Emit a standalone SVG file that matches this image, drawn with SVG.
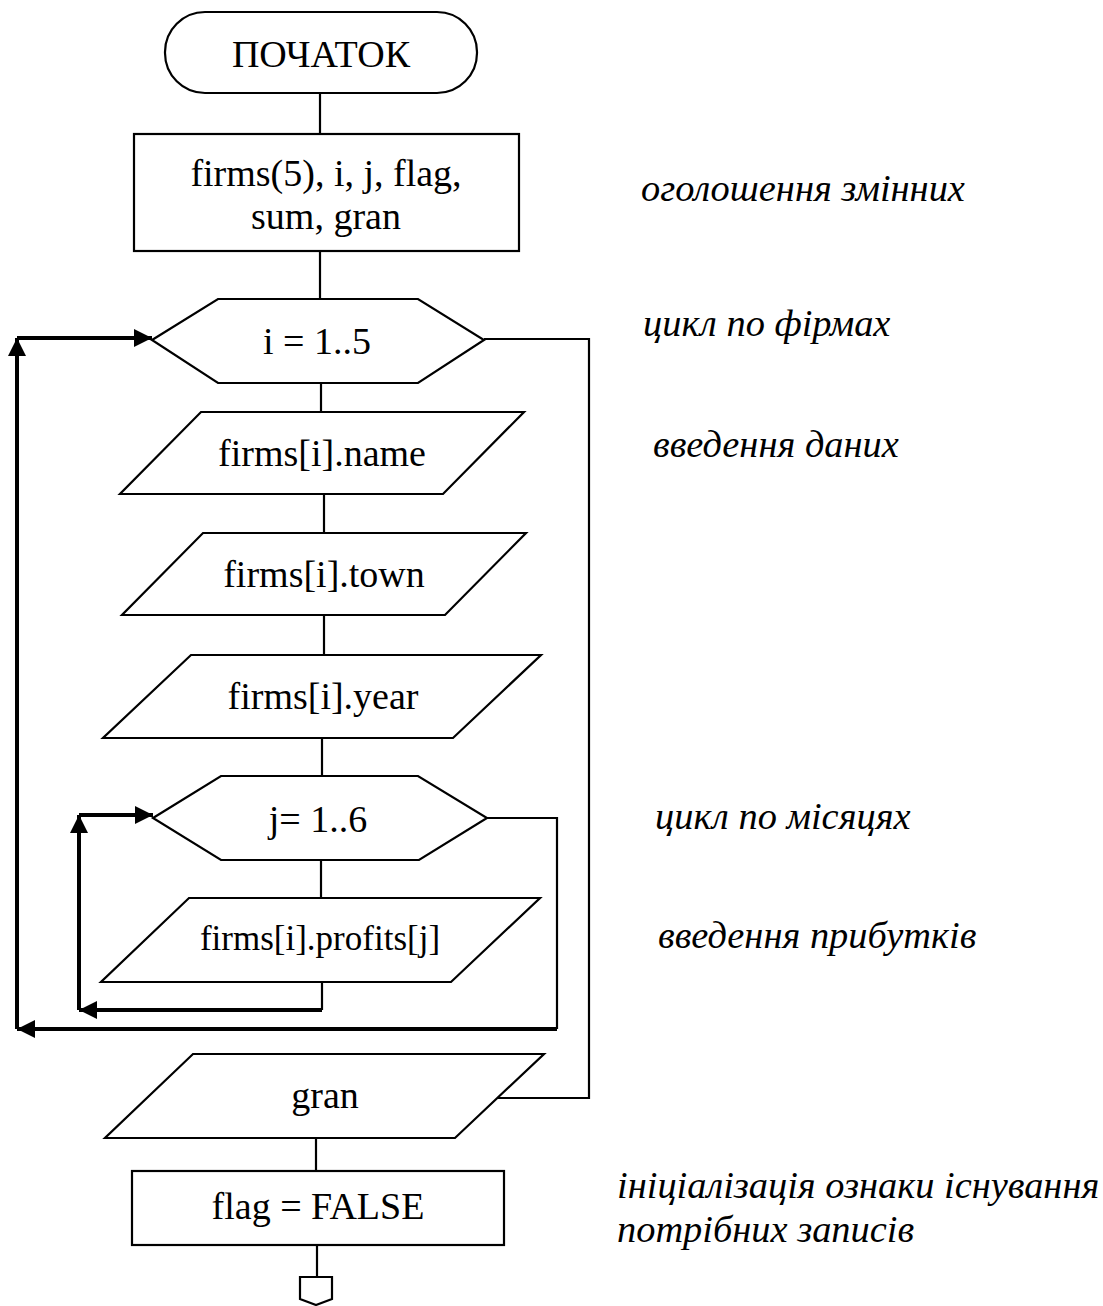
<svg xmlns="http://www.w3.org/2000/svg" width="1103" height="1306" viewBox="0 0 1103 1306">
<style>
.s{fill:#fff;stroke:#000;stroke-width:2.2}
.t{font-family:"Liberation Serif","Times New Roman",serif;font-size:38px;fill:#000;text-anchor:middle}
.a{font-family:"Liberation Serif","Times New Roman",serif;font-size:38.4px;font-style:italic;fill:#000}
.c{fill:none;stroke:#000;stroke-width:2.2}
.k{fill:none;stroke:#000;stroke-width:4}
</style>
<defs>
<marker id="ah" markerUnits="userSpaceOnUse" markerWidth="20" markerHeight="20" refX="18" refY="9" orient="auto">
<path d="M0,0 L18,9 L0,18 z" fill="#000"/>
</marker>
</defs>
<rect width="1103" height="1306" fill="#fff"/>
<g id="connectors">
<line class="c" x1="320" y1="93" x2="320" y2="134"/>
<line class="c" x1="320" y1="251" x2="320" y2="299"/>
<line class="c" x1="321" y1="383" x2="321" y2="412"/>
<line class="c" x1="324" y1="494" x2="324" y2="533"/>
<line class="c" x1="324" y1="615" x2="324" y2="655"/>
<line class="c" x1="322" y1="738" x2="322" y2="776"/>
<line class="c" x1="321" y1="860" x2="321" y2="898"/>
<line class="c" x1="322" y1="982" x2="322" y2="1010"/>
<line class="k" x1="322" y1="1010" x2="79" y2="1010" marker-end="url(#ah)"/>
<line class="k" x1="79" y1="1010" x2="79" y2="815" marker-end="url(#ah)"/>
<line class="k" x1="79" y1="815" x2="153" y2="815" marker-end="url(#ah)"/>
<polyline class="c" points="487,818 557,818 557,1029"/>
<line class="k" x1="557" y1="1029" x2="17" y2="1029" marker-end="url(#ah)"/>
<line class="k" x1="17" y1="1029" x2="17" y2="338" marker-end="url(#ah)"/>
<line class="k" x1="17" y1="338" x2="152" y2="338" marker-end="url(#ah)"/>
<polyline class="c" points="484,339 589,339 589,1098 497,1098"/>
<line class="c" x1="316" y1="1138" x2="316" y2="1171"/>
<line class="c" x1="317" y1="1245" x2="317" y2="1277"/>
</g>
<g id="start">
<rect class="s" x="165" y="12" width="312" height="81" rx="40" ry="40"/>
<text class="t" x="321" y="67">ПОЧАТОК</text>
</g>
<g id="decl">
<rect class="s" x="134" y="134" width="385" height="117"/>
<text class="t" x="326" y="186">firms(5), i, j, flag,</text>
<text class="t" x="326" y="229">sum, gran</text>
</g>
<g id="loop-i">
<polygon class="s" points="152,340 218,299 418,299 484,340 418,383 218,383"/>
<text class="t" x="317" y="354">i = 1..5</text>
</g>
<g id="in-name">
<polygon class="s" points="201,412 524,412 443,494 120,494"/>
<text class="t" x="322" y="466">firms[i].name</text>
</g>
<g id="in-town">
<polygon class="s" points="203,533 526,533 445,615 122,615"/>
<text class="t" x="324" y="587">firms[i].town</text>
</g>
<g id="in-year">
<polygon class="s" points="191,655 541,655 453,738 103,738"/>
<text class="t" x="323" y="709">firms[i].year</text>
</g>
<g id="loop-j">
<polygon class="s" points="153,818 221,776 418,776 487,818 419,860 221,860"/>
<text class="t" x="318" y="832">j= 1..6</text>
</g>
<g id="in-profits">
<polygon class="s" points="189,898 540,898 451,982 101,982"/>
<text class="t" x="320" y="950" style="font-size:35px">firms[i].profits[j]</text>
</g>
<g id="in-gran">
<polygon class="s" points="193,1054 544,1054 455,1138 105,1138"/>
<text class="t" x="325" y="1108">gran</text>
</g>
<g id="flag">
<rect class="s" x="132" y="1171" width="372" height="74"/>
<text class="t" x="318" y="1219">flag = FALSE</text>
</g>
<g id="offpage">
<polygon class="s" points="300,1277 332,1277 332,1299 316,1305 300,1299"/>
</g>
<g id="notes">
<text class="a" x="641" y="201">оголошення змінних</text>
<text class="a" x="643" y="336">цикл по фірмах</text>
<text class="a" x="653" y="457">введення даних</text>
<text class="a" x="655" y="829">цикл по місяцях</text>
<text class="a" x="658" y="948">введення прибутків</text>
<text class="a" x="617" y="1198">ініціалізація ознаки існування</text>
<text class="a" x="617" y="1242">потрібних записів</text>
</g>
</svg>
